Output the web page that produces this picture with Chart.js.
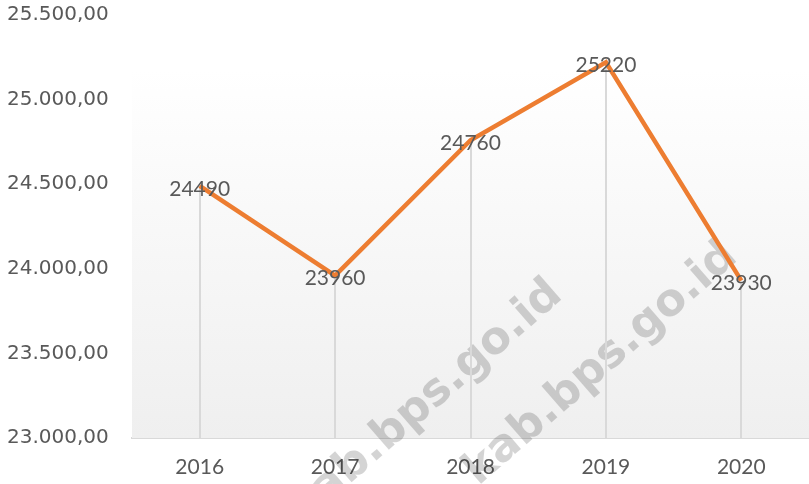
<!DOCTYPE html>
<html>
<head>
<meta charset="utf-8">
<script src="https://cdn.jsdelivr.net/npm/chart.js@4"></script>
<style>
  html, body { margin: 0; padding: 0; background: #fff; }
  #wrap { width: 809px; height: 484px; }
</style>
</head>
<body>
<div id="wrap"><canvas id="chart" width="809" height="484"></canvas></div>
<script>
// data
var years = ['2016', '2017', '2018', '2019', '2020'];
var values = [24490, 23960, 24760, 25220, 23930];
var yMin = 23000;
var yMax = 25500;
var yStep = 500;

function formatId(v) {
    var s = Math.round(v).toString().replace(/\B(?=(\d{3})+(?!\d))/g, '.');
    return s + ',00';
}

// background gradient, watermark, drop lines, labels
var decor = {
    id: 'decor',
    beforeDatasetsDraw: function (chart) {
        var ctx = chart.ctx, a = chart.chartArea;
        ctx.save();
        var g = ctx.createLinearGradient(0, 70, 0, a.bottom);
        g.addColorStop(0, '#ffffff');
        g.addColorStop(1, '#efefef');
        ctx.fillStyle = g;
        ctx.fillRect(a.left, 70, chart.width - a.left, a.bottom - 70);

        // watermark
        ctx.fillStyle = 'rgba(0,0,0,0.17)';
        ctx.font = 'bold 45px "DejaVu Sans"';
        ctx.textAlign = 'center';
        ctx.textBaseline = 'middle';
        [[426, 402], [601, 364]].forEach(function (p) {
            ctx.save();
            ctx.translate(p[0], p[1]);
            ctx.rotate(-41 * Math.PI / 180);
            ctx.fillText('kab.bps.go.id', 0, 0);
            ctx.restore();
        });

        // drop lines
        var meta = chart.getDatasetMeta(0);
        ctx.strokeStyle = '#d9d9d9';
        ctx.lineWidth = 2;
        meta.data.forEach(function (pt) {
            ctx.beginPath();
            ctx.moveTo(Math.round(pt.x), pt.y);
            ctx.lineTo(Math.round(pt.x), a.bottom);
            ctx.stroke();
        });
        ctx.restore();
    },
    afterDatasetsDraw: function (chart) {
        var ctx = chart.ctx;
        var meta = chart.getDatasetMeta(0);
        ctx.save();
        ctx.fillStyle = '#595959';
        ctx.font = '21px Lato';
        ctx.textAlign = 'center';
        ctx.textBaseline = 'middle';
        meta.data.forEach(function (pt, i) {
            ctx.fillText(String(values[i]), pt.x, pt.y + 3);
        });
        ctx.restore();
    }
};

new Chart(document.getElementById('chart').getContext('2d'), {
    type: 'line',
    data: {
        labels: years,
        datasets: [{
            data: values,
            borderColor: '#ED7D31',
            borderWidth: 4.5,
            pointRadius: 0,
            tension: 0,
            fill: false
        }]
    },
    options: {
        responsive: false,
        animation: false,
        layout: { padding: { top: 15, right: 0, left: 7, bottom: 0 } },
        plugins: { legend: { display: false }, tooltip: { enabled: false } },
        scales: {
            x: {
                offset: true,
                grid: { display: false, drawTicks: false },
                border: { display: true, color: '#d9d9d9', width: 2 },
                ticks: {
                    color: '#595959',
                    font: { family: 'Lato', size: 21 },
                    padding: 17
                },
                afterFit: function (s) { s.height = 46; }
            },
            y: {
                min: yMin,
                max: yMax,
                grid: { display: false, drawTicks: false },
                border: { display: false },
                ticks: {
                    stepSize: yStep,
                    color: '#595959',
                    font: { family: 'DejaVu Sans', size: 20 },
                    crossAlign: 'far',
                    padding: 0,
                    callback: function (v) { return formatId(v); }
                },
                afterFit: function (s) { s.width = 125; }
            }
        }
    },
    plugins: [decor]
});
</script>
</body>
</html>
